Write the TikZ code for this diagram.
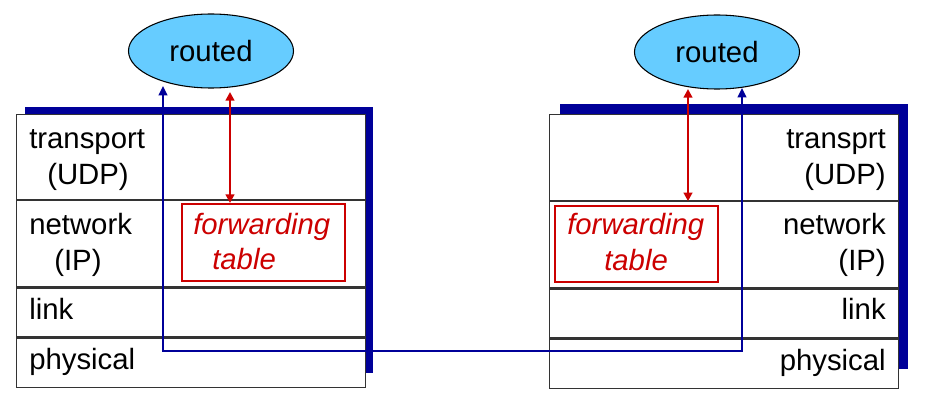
\documentclass[tikz,border=0pt]{standalone}
\usepackage{fontspec}
\setmainfont{Liberation Sans}
\usetikzlibrary{shapes.geometric,arrows.meta}
\definecolor{navy}{HTML}{000099}
\definecolor{sky}{HTML}{66CCFF}
\definecolor{fred}{HTML}{CC0000}
\definecolor{edge}{HTML}{333333}
\newcommand{\pxu}{0.75pt}
\tikzset{
  cell/.style={draw=edge, line width=0.9pt, fill=white, rectangle, inner sep=0pt, anchor=north west},
  txt/.style={inner sep=0pt, font=\fontsize{22}{26}\selectfont},
  ftxt/.style={inner sep=0pt, font=\fontsize{22}{26}\selectfont\itshape, text=fred},
  ftbox/.style={draw=fred, line width=1.8pt, rectangle, inner sep=0pt, anchor=north west, minimum width=163*\pxu},
  daemon/.style={ellipse, draw=black, line width=0.8pt, fill=sky, inner sep=0pt, minimum width=165*\pxu, minimum height=74*\pxu, font=\fontsize{22}{26}\selectfont},
  bline/.style={draw=navy, line width=1.5pt, arrows={Triangle[length=7pt,width=6.5pt]-Triangle[length=7pt,width=6.5pt]}},
  rline/.style={draw=fred, line width=1.7pt, arrows={Triangle[length=6.5pt,width=6.5pt]-Triangle[length=6.5pt,width=6.5pt]}}
}
\begin{document}
\begin{tikzpicture}[x=\pxu, y=-\pxu]
\useasboundingbox (0,0) rectangle (940,410);
% shadows
\fill[navy] (25,107) rectangle (373,373);
\fill[navy] (560,104) rectangle (908,369);
% left stack
\node[cell, minimum width=349*\pxu, minimum height=85*\pxu] (Lt) at (16,114) {};
\node[cell, minimum width=349*\pxu, minimum height=86*\pxu] (Ln) at (Lt.south west) {};
\node[cell, minimum width=349*\pxu, minimum height=49*\pxu] (Ll) at (Ln.south west) {};
\node[cell, minimum width=349*\pxu, minimum height=49*\pxu] (Lp) at (Ll.south west) {};
% right stack
\node[cell, minimum width=349*\pxu, minimum height=86*\pxu] (Rt) at (549,114) {};
\node[cell, minimum width=349*\pxu, minimum height=86*\pxu] (Rn) at (Rt.south west) {};
\node[cell, minimum width=349*\pxu, minimum height=49*\pxu] (Rl) at (Rn.south west) {};
\node[cell, minimum width=349*\pxu, minimum height=49*\pxu] (Rp) at (Rl.south west) {};
% left labels
\node[txt, anchor=base west] (LtA) at (29,148) {transport};
\node[txt, anchor=base west] (LtB) at (47,185) {(UDP)};
\node[txt, anchor=base west] (LnA) at (29,234) {network};
\node[txt, anchor=base west] (LnB) at (54,270) {(IP)};
\node[txt, anchor=base west] (LlA) at (29,319) {link};
\node[txt, anchor=base west] (LpA) at (29,369) {physical};
% right labels
\node[txt, anchor=base east] (RtA) at (886,148) {transprt};
\node[txt, anchor=base east] (RtB) at (886,185) {(UDP)};
\node[txt, anchor=base east] (RnA) at (886,234) {network};
\node[txt, anchor=base east] (RnB) at (886,270) {(IP)};
\node[txt, anchor=base east] (RlA) at (886,319) {link};
\node[txt, anchor=base east] (RpA) at (886,370) {physical};
% forwarding tables
\node[ftbox, minimum height=77*\pxu] (ftL) at (181,203) {};
\node[ftxt, anchor=base west] (ftLa) at (193,234) {forwarding};
\node[ftxt, anchor=base west] (ftLb) at (212,269) {table};
\node[ftbox, minimum height=76*\pxu] (ftR) at (554,205) {};
\node[ftxt, anchor=base west] (ftRa) at (567,234) {forwarding};
\node[ftxt, anchor=base west] (ftRb) at (604,270) {table};
% routed daemons
\node[daemon] (rdL) at (211,51) {routed};
\node[daemon] (rdR) at (717,52) {routed};
% connectors
\coordinate (tL) at (163,86);
\coordinate (bL) at (163,351);
\coordinate (bR) at (742,351);
\coordinate (tR) at (742,88);
\draw[bline] (tL) -- (bL) -- (bR) -- (tR);
\coordinate (rLt) at (230,92);
\draw[rline] (rLt) -- (rLt |- ftL.north);
\coordinate (rRt) at (688,89);
\draw[rline] (rRt) -- (rRt |- Rt.south);
\end{tikzpicture}
\end{document}
